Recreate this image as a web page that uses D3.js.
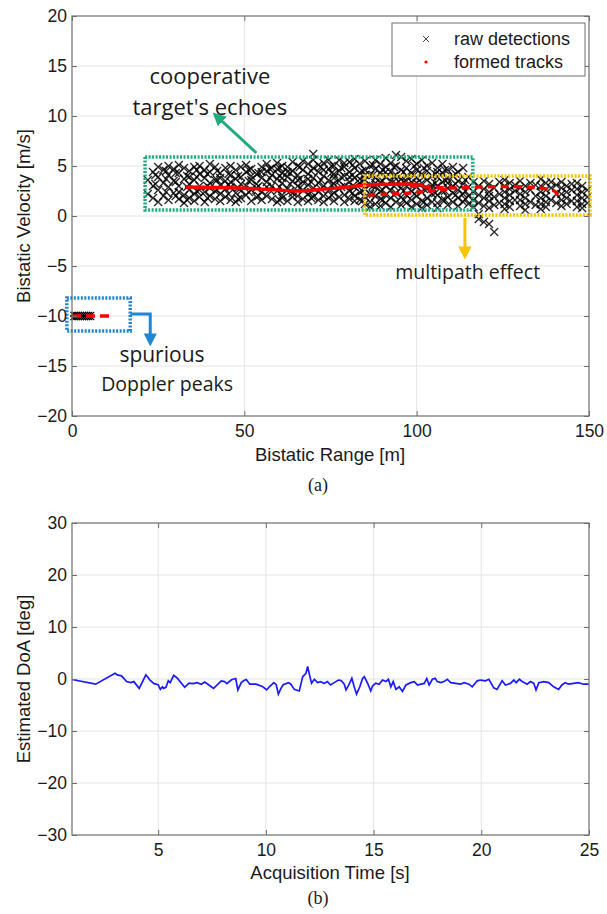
<!DOCTYPE html>
<html>
<head>
<meta charset="utf-8">
<script src="https://cdn.jsdelivr.net/npm/d3@7"></script>
<style>
  body { margin: 0; background: #fff; }
  text { font-family: "Liberation Sans", Arial, sans-serif; fill: #1a1a1a; }
  .note { font-family: "Open Sans", sans-serif; }
  .cap { font-family: "Liberation Serif", "Times New Roman", serif; font-size: 18px; }
</style>
</head>
<body>
<svg width="607" height="914"></svg>
<script>
// (a) raw detections, one column per bistatic range [m], velocities [m/s] seen there
var detRange = [22, 23.5, 25, 26.5, 28, 29.5, 31, 32.5, 34, 35.5, 37, 38.5, 40, 41.5, 43, 44.5, 46, 47.5, 49, 50.5,
  52, 53.5, 55, 56.5, 58, 59.5, 61, 62.5, 64, 65.5, 67, 68.5, 70, 71.5, 73, 74.5, 76, 77.5, 79, 80.5,
  82, 83.5, 85, 86.5, 88, 89.5, 91, 92.5, 94, 95.5, 97, 98.5, 100, 101.5, 103, 104.5, 106, 107.5, 109, 110.5,
  112, 113.5, 115, 116.5, 118, 119.5, 121, 122.5, 124, 125.5, 127, 128.5, 130, 131.5, 133, 134.5, 136, 137.5,
  139, 140.5, 142, 143.5, 145, 146.5, 148, 149.5];
var detVel = [
  [3.6, 2.2], [4.4, 3.0, 1.8], [3.9, 2.6, 1.4, 4.9], [4.6, 3.3, 2.0], [4.1, 2.9, 1.6, 5.0], [3.5, 2.3, 4.7],
  [4.3, 3.0, 1.7, 5.1, 2.4], [3.7, 2.1, 4.8, 1.3], [4.5, 3.2, 2.6, 1.8, 3.9], [4.9, 3.6, 2.2, 1.5],
  [4.2, 3.0, 1.9, 5.0, 2.6], [3.8, 2.4, 4.6, 1.4], [4.4, 3.3, 2.0, 5.2, 2.8], [3.6, 1.7, 4.9, 2.5],
  [4.3, 3.1, 2.2, 1.5, 3.8], [4.8, 3.5, 2.7, 1.9], [4.1, 2.9, 1.6, 5.0, 3.4], [4.6, 3.7, 2.3, 1.4],
  [3.9, 2.5, 4.9, 1.8, 3.2], [4.4, 3.0, 2.1, 5.1], [4.7, 3.6, 2.6, 1.5, 4.0], [4.2, 3.2, 1.9, 2.8],
  [4.9, 3.8, 2.4, 1.6, 4.4], [4.5, 3.4, 2.0, 5.2, 2.9], [4.1, 3.0, 1.7, 4.8], [4.7, 3.7, 2.5, 1.4, 5.3],
  [4.3, 3.3, 2.1, 1.8, 5.0, 3.8], [4.9, 3.9, 2.7, 1.5, 4.4], [4.5, 3.5, 2.3, 5.4, 1.9],
  [5.0, 4.1, 3.0, 2.0, 1.4, 3.6], [4.6, 3.4, 2.6, 5.5, 1.7], [5.2, 4.2, 3.1, 2.2, 1.5, 3.7],
  [6.2, 4.8, 3.8, 2.8, 1.9, 5.6], [4.4, 3.3, 2.4, 1.6, 5.1], [5.3, 4.0, 3.0, 2.0, 4.6, 1.4],
  [4.7, 3.6, 2.6, 1.8, 5.6], [5.0, 4.2, 3.2, 2.3, 1.5, 3.8], [5.6, 4.5, 3.5, 2.7, 1.9],
  [4.9, 4.0, 3.0, 2.1, 1.4, 5.3], [5.4, 4.4, 3.4, 2.5, 1.7, 3.9], [4.8, 3.8, 2.9, 2.0, 5.7, 1.5],
  [5.2, 4.3, 3.3, 2.4, 1.6, 3.7], [5.5, 4.6, 3.6, 2.7, 1.9, 1.2, 4.1], [5.0, 4.1, 3.1, 2.2, 1.4, 0.9],
  [5.6, 4.7, 3.8, 2.9, 2.0, 1.2, 3.3], [5.2, 4.3, 3.4, 2.5, 1.7, 1.0], [5.8, 4.9, 3.9, 3.0, 2.1, 1.3, 4.4],
  [5.3, 4.4, 3.5, 2.6, 1.8, 0.9], [6.1, 5.0, 4.1, 3.2, 2.3, 1.4, 3.7], [5.9, 4.6, 3.7, 2.8, 1.9, 1.1],
  [5.5, 4.8, 4.0, 3.0, 2.1, 1.3, 3.5], [5.7, 4.3, 3.4, 2.5, 1.6, 0.9], [5.2, 4.6, 3.8, 2.9, 2.0, 1.2, 3.3],
  [5.6, 4.2, 3.3, 2.4, 1.5, 0.8], [5.0, 4.5, 3.6, 2.7, 1.8, 1.1], [5.3, 4.0, 3.1, 2.2, 1.4, 2.8],
  [4.8, 3.9, 3.0, 2.1, 1.3, 0.8, 4.4], [5.2, 4.3, 3.4, 2.5, 1.6], [4.6, 3.7, 2.8, 1.9, 1.1, 3.3],
  [4.9, 4.0, 3.0, 2.3, 1.4], [4.4, 3.5, 2.6, 1.8, 1.0], [4.8, 3.2, 2.2, 1.4], [3.9, 2.9, 2.0, 1.2],
  [3.4, 2.4, 1.6, 0.9], [3.0, 2.1, 1.3, -0.3, 0.2], [2.7, 1.8, 1.0, 3.5, -0.6], [3.2, 2.4, 1.5, 0.8, -0.8, 2.0],
  [2.8, 1.9, 1.1, -1.6], [3.4, 2.2, 1.3], [3.0, 2.4, 1.8, 1.2, 0.7, 3.6], [3.3, 2.7, 2.1, 1.5, 0.9],
  [2.5, 1.6, 3.1], [3.5, 2.8, 2.2, 1.6, 1.0], [3.0, 2.4, 1.8, 1.2, 0.6], [2.6, 1.4, 3.3], [3.1, 2.0, 1.1],
  [3.7, 3.0, 2.4, 1.8, 1.2, 0.7], [3.3, 2.6, 2.0, 1.4, 0.9], [2.8, 1.6, 3.4], [3.1, 2.2, 1.3],
  [3.4, 2.8, 2.2, 1.6, 1.0], [3.0, 2.4, 1.8, 1.2], [2.6, 1.5, 3.2], [3.3, 2.7, 2.1, 1.5, 0.9],
  [3.0, 2.4, 1.8, 1.2, 0.8], [2.6, 1.9, 1.3]
];
// a second, offset scatter of detections filling the cloud between the columns
var detRange2 = [24.2, 27.3, 30.1, 33.4, 36.2, 39.3, 42.1, 45.4, 48.2, 51.3, 54.1, 57.4, 60.2, 63.3, 66.1, 69.4,
  72.2, 75.3, 78.1, 81.4, 84.2, 87.3, 90.1, 93.4, 96.2, 99.3, 102.1, 105.4, 108.2, 111.3, 114.1];
var detVel2 = [
  [3.2, 4.1], [2.4, 3.7, 4.5], [2.0, 3.4, 4.3], [2.9, 4.0, 1.6], [2.5, 3.9, 4.6], [3.0, 1.8, 4.2],
  [2.6, 3.6, 4.5], [2.2, 3.1, 4.2], [2.8, 4.0, 1.7], [2.4, 3.5, 4.6], [3.0, 2.0, 4.3], [2.6, 3.8, 4.7],
  [2.9, 4.0, 1.6, 4.8], [2.5, 3.2, 4.3], [2.8, 3.7, 4.9], [2.4, 3.4, 4.5, 1.8], [2.7, 3.6, 4.9],
  [2.1, 3.1, 4.3, 5.0], [2.9, 3.9, 4.8], [2.3, 3.0, 4.1, 5.1], [2.5, 3.5, 4.5, 1.5], [2.2, 3.0, 4.1, 5.1],
  [2.6, 3.5, 4.6, 1.6], [2.1, 3.0, 4.0, 4.9], [2.5, 3.4, 4.4, 1.6], [2.2, 3.1, 4.1, 5.0], [2.7, 3.9, 4.8, 1.4],
  [2.3, 3.3, 4.2], [2.5, 3.6, 4.6, 1.6], [2.1, 3.2, 4.2], [2.5, 3.6, 1.7]
];
// spurious Doppler peaks near zero range
var spurRange = [0.3, 0.9, 1.5, 2.1, 2.7, 3.3, 3.9, 4.5, 5.1, 5.7];
var spurVel = [-9.85, -10.15];

// formed tracks [range, velocity]
var trackMain = [[33, 2.9], [42, 2.85], [52, 2.75], [60, 2.6], [65, 2.5], [72, 2.65], [80, 2.9], [88, 3.15], [96, 3.2], [102, 3.1]];
var trackFar = [[98, 3.0], [105, 2.85], [112, 2.8], [118, 2.9], [126, 2.95], [134, 2.85], [140, 2.5], [141, 2.1]];
var trackLow = [[86, 2.1], [92, 2.2], [98, 2.3], [104, 2.5], [110, 2.7]];
var trackSpur = [[0, -10], [12, -10]];

// annotation boxes in data units [r0, r1, v0, v1]
var boxGreen = [21.2, 116.3, 0.6, 5.9];
var boxYellow = [84.9, 150.3, 0.1, 4.0];
var boxBlue = [-1.5, 16.9, -11.5, -8.2];

var xTicksA = [0, 50, 100, 150];
var yTicksA = [-20, -15, -10, -5, 0, 5, 10, 15, 20];

// (b) estimated direction of arrival
var doaTime = [1.0, 2.1, 3.0, 3.1, 3.3, 3.53, 3.73, 3.87, 4.12, 4.43, 4.62, 4.81, 5.0, 5.1, 5.2, 5.25, 5.36, 5.47, 5.56, 5.72,
  5.88, 6.23, 6.43, 6.62, 6.8, 7.0, 7.16, 7.34, 7.57, 7.93, 8.08, 8.19, 8.39, 8.47, 8.6, 8.7, 8.86, 8.98, 9.09, 9.25,
  9.55, 9.86, 10.04, 10.16, 10.37, 10.48, 10.58, 10.7, 10.8, 11.05, 11.16, 11.32, 11.55, 11.71, 11.86, 11.94, 12.02, 12.12, 12.25, 12.4,
  12.55, 12.7, 12.86, 13.0, 13.17, 13.37, 13.49, 13.64, 13.72, 13.85, 13.99, 14.1, 14.21, 14.36, 14.49, 14.57, 14.72, 14.87, 14.95, 15.1,
  15.26, 15.41, 15.57, 15.69, 15.8, 15.91, 16.04, 16.19, 16.34, 16.5, 16.73, 16.89, 17.04, 17.2, 17.35, 17.47, 17.58, 17.73, 17.86, 17.96,
  18.12, 18.27, 18.42, 18.58, 18.81, 19.04, 19.2, 19.43, 19.58, 19.81, 19.96, 20.2, 20.35, 20.58, 20.73, 20.97, 21.12, 21.35, 21.51, 21.62,
  21.77, 21.9, 22.13, 22.28, 22.44, 22.54, 22.67, 22.9, 23.13, 23.36, 23.59, 23.74, 23.9, 24.05, 24.28, 24.51, 24.74, 25.0];
var doaDeg = [-0.1, -1.0, 1.1, 0.8, 0.6, -0.5, -0.7, -0.5, -1.8, 0.8, -0.2, -0.9, -1.1, -2.0, -1.5, -1.8, -1.6, -0.35, -0.7, 0.7,
  0.2, -1.6, -0.8, -0.9, -0.7, -1.0, -0.6, -1.1, -1.8, -0.35, -0.5, -0.9, -0.2, -0.05, 0.1, -2.1, -0.7, -0.3, -0.1, -1.0,
  -1.0, -1.5, -2.1, -1.5, -0.7, -1.1, -2.9, -1.8, -1.1, -0.7, -1.0, -2.0, -2.3, 0.45, 1.1, 2.4, 0.9, -0.8, -0.05, -0.7,
  -0.5, -0.85, -0.5, -1.15, -0.7, -0.2, -0.3, -1.0, -2.1, -1.15, 0.13, -1.5, -2.9, -1.5, 0.1, 0.45, -0.8, -2.3, -1.35, -0.8,
  -1.0, -0.2, -0.5, -0.05, -1.5, -0.5, -2.0, -1.5, -2.4, -1.15, -0.7, -0.5, -1.15, -1.0, -0.85, 0.1, -1.15, -0.05, 0.13, -0.5,
  -0.7, -0.5, -0.05, -0.7, -0.85, -1.0, -0.7, -1.0, -1.5, -0.35, -0.2, -0.35, -0.05, -1.7, -2.0, -0.35, -1.15, -0.85, -0.2, -0.7,
  -0.05, -0.5, -1.0, -0.5, -0.85, -2.1, -0.7, -0.5, -0.7, -1.5, -2.0, -1.15, -0.7, -1.0, -0.85, -0.7, -1.0, -1.0];

var xTicksB = [5, 10, 15, 20, 25];
var yTicksB = [-30, -20, -10, 0, 10, 20, 30];

var svg = d3.select("svg");
var green = "#1fab7d", yellow = "#f7c600", blue = "#1f86d1";
var axisGray = "#6e6e6e";

// arrow heads
var defs = svg.append("defs");
[["g", green], ["y", yellow], ["b", blue]].forEach(function(m) {
  defs.append("marker").attr("id", "head-" + m[0])
      .attr("viewBox", "0 0 10 10").attr("refX", 5).attr("refY", 5)
      .attr("markerWidth", 4.4).attr("markerHeight", 4.4).attr("orient", "auto")
    .append("path").attr("d", "M0,0L10,5L0,10Z").attr("fill", m[1]);
});

function frame(g, x, y, xt, yt, w, h) {
  g.append("g").selectAll("line").data(xt.filter(function(t) { return x(t) > 1 && x(t) < w - 1; }))
    .enter().append("line")
      .attr("x1", x).attr("x2", x).attr("y1", 0).attr("y2", h)
      .attr("stroke", "#e4e4e4");
  g.append("g").selectAll("line").data(yt.filter(function(t) { return y(t) > 1 && y(t) < h - 1; }))
    .enter().append("line")
      .attr("y1", y).attr("y2", y).attr("x1", 0).attr("x2", w)
      .attr("stroke", "#e4e4e4");
}

function axes(g, x, y, xt, yt, w, h) {
  var ax = [
    g.append("g").attr("transform", "translate(0," + h + ")")
      .call(d3.axisBottom(x).tickValues(xt).tickSize(-5).tickSizeOuter(0).tickPadding(9)),
    g.append("g")
      .call(d3.axisLeft(y).tickValues(yt).tickSize(-5).tickSizeOuter(0).tickPadding(5)),
    g.append("g")
      .call(d3.axisTop(x).tickValues(xt).tickSize(-5).tickSizeOuter(0).tickFormat("")),
    g.append("g").attr("transform", "translate(" + w + ",0)")
      .call(d3.axisRight(y).tickValues(yt).tickSize(-5).tickSizeOuter(0).tickFormat(""))
  ];
  ax.forEach(function(a) {
    a.select(".domain").remove();
    a.selectAll("line").attr("stroke", axisGray);
    a.selectAll("text").style("font-size", "17.5px").attr("fill", "#1a1a1a");
  });
  g.append("rect").attr("width", w).attr("height", h)
    .attr("fill", "none").attr("stroke", axisGray).attr("stroke-width", 1.2);
}

function cross(s) { return "M" + (-s) + "," + (-s) + "L" + s + "," + s + "M" + (-s) + "," + s + "L" + s + "," + (-s); }

// ---------- (a) range-Doppler ----------
var wA = 517, hA = 400;
var gA = svg.append("g").attr("transform", "translate(72,16)");
var xA = d3.scaleLinear().domain([0, 150]).range([0, wA]);
var yA = d3.scaleLinear().domain([-20, 20]).range([hA, 0]);
frame(gA, xA, yA, xTicksA, yTicksA, wA, hA);

var dets = [];
detRange.forEach(function(r, i) { detVel[i].forEach(function(v) { dets.push([r, v]); }); });
detRange2.forEach(function(r, i) { detVel2[i].forEach(function(v) { dets.push([r, v]); }); });
var spur = [];
spurRange.forEach(function(r) { spurVel.forEach(function(v) { spur.push([r, v]); }); });

gA.append("g").selectAll("path").data(dets).enter().append("path")
  .attr("transform", function(d) { return "translate(" + xA(d[0]) + "," + yA(d[1]) + ")"; })
  .attr("d", cross(4))
  .attr("stroke", "#000").attr("stroke-width", 1.3).attr("fill", "none").attr("opacity", 0.85);
gA.append("g").selectAll("path").data(spur).enter().append("path")
  .attr("transform", function(d) { return "translate(" + xA(d[0]) + "," + yA(d[1]) + ")"; })
  .attr("d", cross(2.6))
  .attr("stroke", "#000").attr("stroke-width", 1.2).attr("fill", "none");

var line = d3.line().x(function(d) { return xA(d[0]); }).y(function(d) { return yA(d[1]); }).curve(d3.curveMonotoneX);
[[trackMain, null], [trackFar, "8,5"], [trackLow, "7,5"], [trackSpur, "9,5"]].forEach(function(t) {
  gA.append("path").datum(t[0]).attr("d", line)
    .attr("fill", "none").attr("stroke", "#ff0000").attr("stroke-width", 3.4)
    .attr("stroke-dasharray", t[1]);
});

// annotation boxes
function box(b, c) {
  gA.append("rect")
    .attr("x", xA(b[0])).attr("y", yA(b[3]))
    .attr("width", xA(b[1]) - xA(b[0])).attr("height", yA(b[2]) - yA(b[3]))
    .attr("fill", "none").attr("stroke", c).attr("stroke-width", 3.5).attr("stroke-dasharray", "2,1.5");
}
box(boxGreen, green);
box(boxYellow, yellow);
box(boxBlue, blue);

function arrow(pts, c, id) {
  gA.append("path").datum(pts)
    .attr("d", d3.line().x(function(d) { return xA(d[0]); }).y(function(d) { return yA(d[1]); }))
    .attr("fill", "none").attr("stroke", c).attr("stroke-width", 3)
    .attr("marker-end", "url(#head-" + id + ")");
}
arrow([[53.5, 6.3], [42.2, 9.9]], green, "g");
arrow([[114, -0.2], [114, -3.7]], yellow, "y");
arrow([[16.9, -9.8], [22.7, -9.8], [22.7, -12.4]], blue, "b");

function note(txt, r, v, size) {
  gA.append("text").attr("class", "note").attr("x", xA(r)).attr("y", yA(v))
    .attr("text-anchor", "middle").style("font-size", size + "px").text(txt);
}
note("cooperative", 40, 13.2, 22);
note("target's echoes", 40, 10.1, 22);
note("multipath effect", 114.8, -6.3, 19.5);
note("spurious", 26.1, -14.6, 21);
note("Doppler peaks", 27.6, -17.5, 19.5);

axes(gA, xA, yA, xTicksA, yTicksA, wA, hA);

// legend
var lg = gA.append("g").attr("transform", "translate(320,7)");
lg.append("rect").attr("width", 193).attr("height", 53).attr("fill", "#fff").attr("stroke", axisGray);
lg.append("path").attr("transform", "translate(34,16)").attr("d", cross(3))
  .attr("stroke", "#333").attr("stroke-width", 0.9);
lg.append("circle").attr("cx", 34).attr("cy", 39).attr("r", 1.6).attr("fill", "#ff0000");
lg.append("text").attr("x", 62).attr("y", 16).attr("dy", "0.35em").style("font-size", "18px").text("raw detections");
lg.append("text").attr("x", 62).attr("y", 39).attr("dy", "0.35em").style("font-size", "18px").text("formed tracks");

svg.append("text").attr("transform", "translate(30,216) rotate(-90)").attr("text-anchor", "middle")
  .style("font-size", "18.5px").text("Bistatic Velocity [m/s]");
svg.append("text").attr("x", 330).attr("y", 461).attr("text-anchor", "middle")
  .style("font-size", "18.5px").text("Bistatic Range [m]");
svg.append("text").attr("class", "cap").attr("x", 318).attr("y", 491).attr("text-anchor", "middle").text("(a)");

// ---------- (b) DoA vs time ----------
var wB = 517, hB = 312;
var gB = svg.append("g").attr("transform", "translate(72,523)");
var xB = d3.scaleLinear().domain([1, 25]).range([0, wB]);
var yB = d3.scaleLinear().domain([-30, 30]).range([hB, 0]);
frame(gB, xB, yB, xTicksB, yTicksB, wB, hB);

gB.append("path").datum(doaTime.map(function(t, i) { return [t, doaDeg[i]]; }))
  .attr("d", d3.line().x(function(d) { return xB(d[0]); }).y(function(d) { return yB(d[1]); }))
  .attr("fill", "none").attr("stroke", "#1a1aff").attr("stroke-width", 1.7);

axes(gB, xB, yB, xTicksB, yTicksB, wB, hB);

svg.append("text").attr("transform", "translate(30,679) rotate(-90)").attr("text-anchor", "middle")
  .style("font-size", "18.5px").text("Estimated DoA [deg]");
svg.append("text").attr("x", 330).attr("y", 879).attr("text-anchor", "middle")
  .style("font-size", "18.5px").text("Acquisition Time [s]");
svg.append("text").attr("class", "cap").attr("x", 318).attr("y", 904).attr("text-anchor", "middle").text("(b)");
</script>
</body>
</html>
